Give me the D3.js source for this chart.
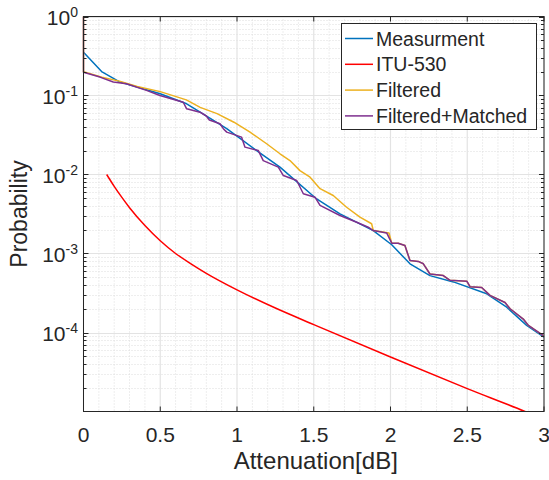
<!DOCTYPE html>
<html>
<head>
<meta charset="utf-8">
<script src="https://cdn.jsdelivr.net/npm/d3@7"></script>
<style>
	body { margin: 0; background: #fff; }
	text { font-family: "Liberation Sans", Arial, Helvetica, sans-serif; fill: #262626; }
</style>
</head>
<body>
<div id="chart"></div>
<script>
// Measurment (blue)
const measX = [0, 0.118, 0.238, 0.5, 0.672, 0.76, 0.933, 1.128, 1.28, 1.519, 1.671, 1.888, 2.008, 2.127, 2.257, 2.41, 2.627, 2.757, 2.887, 3.0];
const measP = [0.353, 0.201, 0.148, 0.105, 0.0785, 0.0617, 0.038, 0.0201, 0.0124, 0.0049, 0.00318, 0.00195, 0.00129, 0.00074, 0.000525, 0.000437, 0.000309, 0.000209, 0.000123, 0.0000871];

// ITU-530 (red)
const ituX = [0.151, 0.2, 0.25, 0.3, 0.4, 0.5, 0.6, 0.7, 0.8, 1.0, 1.25, 1.5, 2.0, 2.5, 2.876, 3.0];
const ituP = [0.01, 0.00708, 0.00513, 0.0038, 0.00226, 0.00145, 0.001, 0.000741, 0.000562, 0.000347, 0.000204, 0.000126, 0.000049, 0.0000195, 0.00001, 0.0000079];

// Filtered (orange)
const filtX = [0, 0, 0.12, 0.24, 0.35, 0.5, 0.67, 0.76, 0.87, 0.98, 1.085, 1.193, 1.28, 1.345, 1.41, 1.476, 1.541, 1.627, 1.714, 1.801, 1.877, 1.888, 1.99, 2.008,
	2.05, 2.094, 2.127, 2.181, 2.214, 2.257, 2.344, 2.388, 2.497, 2.518, 2.594, 2.648, 2.746, 2.779, 2.865, 2.898, 2.996];
const filtP = [1, 0.2, 0.17, 0.151, 0.13, 0.112, 0.0881, 0.0708, 0.0589, 0.0459, 0.0344, 0.0245, 0.0183, 0.015, 0.0112, 0.00925, 0.00661, 0.00542, 0.00385, 0.00288, 0.00238, 0.00195, 0.00182, 0.00135,
	0.00135, 0.00126, 0.000813, 0.000794, 0.000741, 0.00055, 0.000525, 0.000457, 0.000447, 0.00038, 0.000372, 0.000295, 0.00024, 0.0002, 0.000148, 0.000123, 0.0000912];

// Filtered+Matched (purple)
const matchX = [0, 0, 0.107, 0.194, 0.28, 0.41, 0.498, 0.65, 0.672, 0.759, 0.8, 0.82, 0.889, 0.911, 0.933, 1.03, 1.052, 1.139, 1.171, 1.269, 1.302, 1.389, 1.432, 1.508, 1.541, 1.671, 1.78, 1.855, 1.888, 1.975, 2.008,
	2.05, 2.094, 2.127, 2.181, 2.214, 2.257, 2.344, 2.388, 2.497, 2.518, 2.594, 2.648, 2.746, 2.779, 2.865, 2.898, 2.996];
const matchP = [1, 0.197, 0.171, 0.148, 0.141, 0.116, 0.1, 0.0822, 0.0679, 0.0615, 0.055, 0.049, 0.0439, 0.038, 0.0344, 0.0297, 0.0222, 0.0201, 0.015, 0.0124, 0.0097, 0.0084, 0.0057, 0.00516, 0.00406, 0.00303, 0.00249, 0.00215, 0.00195, 0.00182, 0.00135,
	0.00135, 0.00126, 0.000813, 0.000794, 0.000741, 0.00055, 0.000525, 0.000457, 0.000447, 0.00038, 0.000372, 0.000295, 0.00024, 0.0002, 0.000148, 0.000123, 0.0000912];

const seriesNames = ["Measurment", "ITU-530", "Filtered", "Filtered+Matched"];
const seriesColors = ["#0072BD", "#FF0000", "#EDB120", "#7E2F8E"];

const xTicks = [0, 0.5, 1, 1.5, 2, 2.5, 3];
const xTickLabels = ["0", "0.5", "1", "1.5", "2", "2.5", "3"];
const yTicks = [1, 0.1, 0.01, 0.001, 0.0001];
const yTickExps = ["0", "-1", "-2", "-3", "-4"];

const width = 549;
const height = 480;

const svg = d3
	.select("#chart")
	.append("svg")
	.attr("width", width)
	.attr("height", height);

const x = d3.scaleLinear().domain([0, 3]).range([83.5, 544]);
const y = d3.scaleLog().domain([1e-5, 1]).range([411.5, 16.5]);

const [x0, x1] = x.range();
const [y0, y1] = y.range();

// minor grid
const xMinor = d3.range(0, 31).map((i) => i / 10).filter((v) => Math.round(v * 10) % 5 !== 0);
const yMinor = [];
for (let e = -5; e < 0; e++) {
	for (let k = 2; k <= 9; k++) yMinor.push(k * Math.pow(10, e));
}

const grid = svg.append("g");
grid.selectAll(".xminor")
	.data(xMinor)
	.enter()
	.append("line")
	.attr("x1", (d) => x(d))
	.attr("x2", (d) => x(d))
	.attr("y1", y1)
	.attr("y2", y0)
	.attr("stroke", "#dcdcdc")
	.attr("stroke-dasharray", "1,2");
grid.selectAll(".yminor")
	.data(yMinor)
	.enter()
	.append("line")
	.attr("x1", x0)
	.attr("x2", x1)
	.attr("y1", (d) => Math.round(y(d)) + 0.5)
	.attr("y2", (d) => Math.round(y(d)) + 0.5)
	.attr("stroke", "#dcdcdc")
	.attr("stroke-dasharray", "1,2");
grid.selectAll(".xmajor")
	.data(xTicks)
	.enter()
	.append("line")
	.attr("x1", (d) => x(d))
	.attr("x2", (d) => x(d))
	.attr("y1", y1)
	.attr("y2", y0)
	.attr("stroke", "#e3e3e3")
	.attr("stroke-width", 1.2);
grid.selectAll(".ymajor")
	.data(yTicks)
	.enter()
	.append("line")
	.attr("x1", x0)
	.attr("x2", x1)
	.attr("y1", (d) => Math.round(y(d)) + 0.5)
	.attr("y2", (d) => Math.round(y(d)) + 0.5)
	.attr("stroke", "#e3e3e3")
	.attr("stroke-width", 1.2);

// lines
svg.append("clipPath")
	.attr("id", "clip")
	.append("rect")
	.attr("x", x0 - 2)
	.attr("y", y1 - 2)
	.attr("width", x1 - x0 + 4)
	.attr("height", y0 - y1 + 2);

const line = d3
	.line()
	.x((d) => x(d[0]))
	.y((d) => y(d[1]));

const series = [
	d3.zip(measX, measP),
	d3.zip(ituX, ituP),
	d3.zip(filtX, filtP),
	d3.zip(matchX, matchP),
];

svg.append("g")
	.attr("clip-path", "url(#clip)")
	.selectAll("path")
	.data(series)
	.enter()
	.append("path")
	.attr("d", (d, i) => (i === 1 ? line.curve(d3.curveMonotoneX)(d) : line.curve(d3.curveLinear)(d)))
	.attr("fill", "none")
	.attr("stroke", (d, i) => seriesColors[i])
	.attr("stroke-width", 1.5)
	.attr("stroke-linejoin", "round");

// axes box and ticks
const axis = svg.append("g").attr("stroke", "#262626").attr("fill", "none");
axis.append("rect")
	.attr("x", x0)
	.attr("y", y1)
	.attr("width", x1 - x0)
	.attr("height", y0 - y1)
	.attr("stroke-width", 1);

xTicks.forEach((t) => {
	axis.append("line").attr("x1", x(t)).attr("x2", x(t)).attr("y1", y0).attr("y2", y0 - 5);
	axis.append("line").attr("x1", x(t)).attr("x2", x(t)).attr("y1", y1).attr("y2", y1 + 5);
});
yTicks.concat(yMinor).forEach((t, i) => {
	const len = i < yTicks.length ? 5 : 3;
	const yy = Math.round(y(t)) + 0.5;
	axis.append("line").attr("x1", x0).attr("x2", x0 + len).attr("y1", yy).attr("y2", yy);
	axis.append("line").attr("x1", x1).attr("x2", x1 - len).attr("y1", yy).attr("y2", yy);
});

// tick labels
svg.selectAll(".xlab")
	.data(xTicks)
	.enter()
	.append("text")
	.attr("x", (d) => x(d))
	.attr("y", 441.5)
	.attr("text-anchor", "middle")
	.style("font-size", "21px")
	.text((d, i) => xTickLabels[i]);

const yl = svg.selectAll(".ylab")
	.data(yTicks)
	.enter()
	.append("text")
	.attr("x", 78)
	.attr("y", (d) => y(d) + 8.5)
	.attr("text-anchor", "end")
	.style("font-size", "21px");
yl.append("tspan").text("10");
yl.append("tspan")
	.attr("dy", -8)
	.style("font-size", "14px")
	.text((d, i) => yTickExps[i]);

// axis labels
svg.append("text")
	.attr("x", (x0 + x1) / 2 + 2)
	.attr("y", 469)
	.attr("text-anchor", "middle")
	.style("font-size", "24px")
	.text("Attenuation[dB]");

svg.append("text")
	.attr("transform", `translate(27, ${(y0 + y1) / 2}) rotate(-90)`)
	.attr("text-anchor", "middle")
	.style("font-size", "23px")
	.text("Probability");

// legend
const legend = svg.append("g");
legend.append("rect")
	.attr("x", 341.5)
	.attr("y", 23.5)
	.attr("width", 195)
	.attr("height", 106)
	.attr("fill", "#fff")
	.attr("stroke", "#262626")
	.attr("stroke-width", 1);

seriesNames.forEach((name, i) => {
	const yy = 38.5 + i * 25.8;
	legend.append("line")
		.attr("x1", 345)
		.attr("x2", 373)
		.attr("y1", yy)
		.attr("y2", yy)
		.attr("stroke", seriesColors[i])
		.attr("stroke-width", 1.5);
	legend.append("text")
		.attr("x", 376)
		.attr("y", yy + 7)
		.style("font-size", "19.5px")
		.text(name);
});
</script>
</body>
</html>
